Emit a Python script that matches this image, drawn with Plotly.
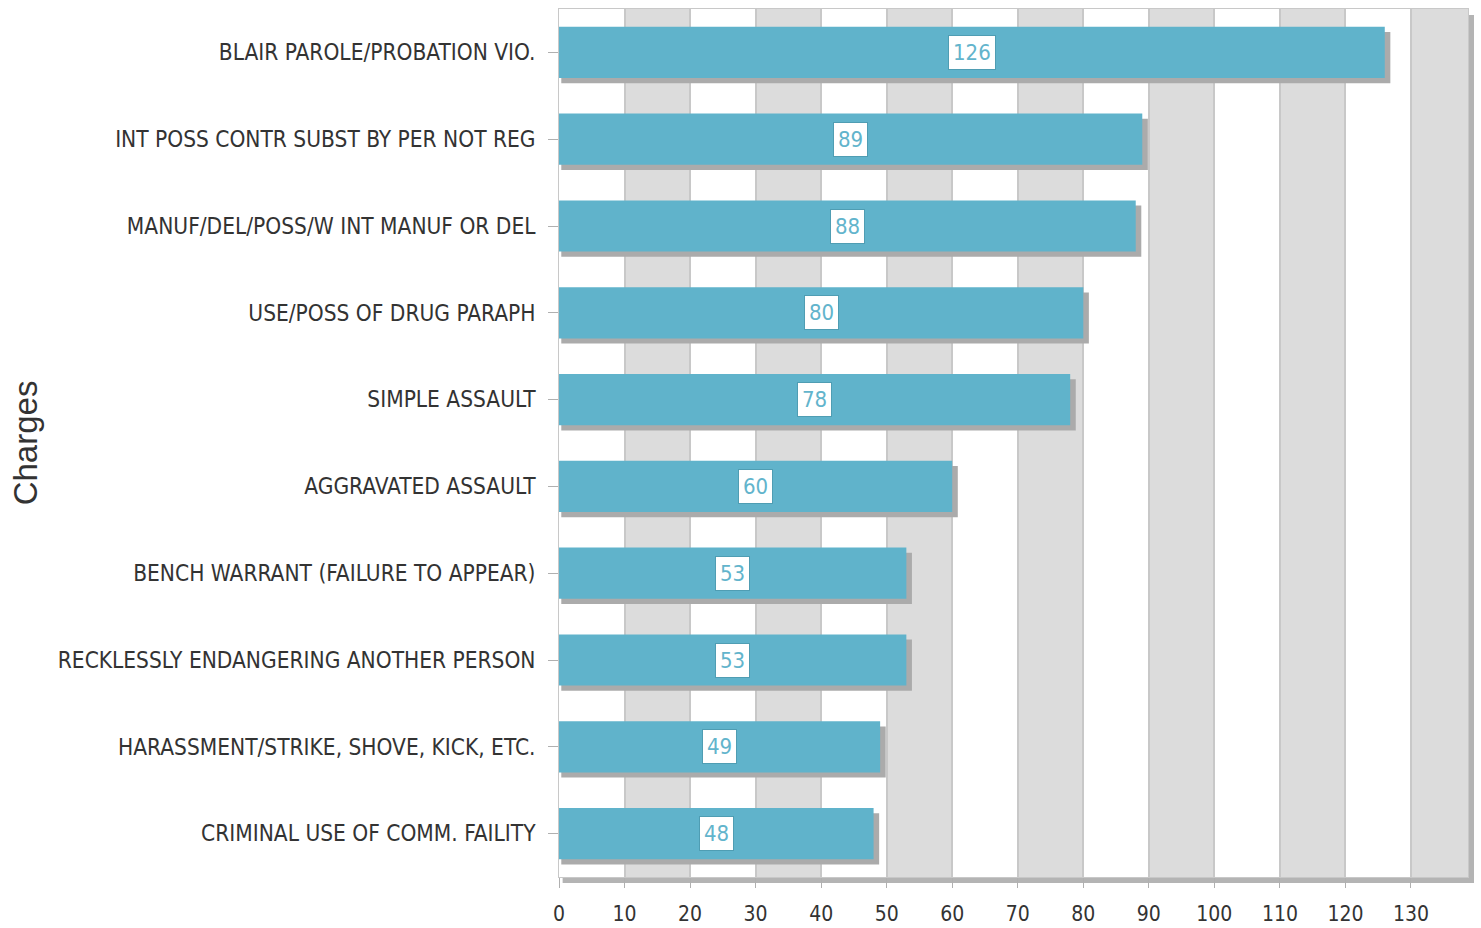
import plotly.graph_objects as go

# ---- data ----
charges = [
    "BLAIR PAROLE/PROBATION VIO.",
    "INT POSS CONTR SUBST BY PER NOT REG",
    "MANUF/DEL/POSS/W INT MANUF OR DEL",
    "USE/POSS OF DRUG PARAPH",
    "SIMPLE ASSAULT",
    "AGGRAVATED ASSAULT",
    "BENCH WARRANT (FAILURE TO APPEAR)",
    "RECKLESSLY ENDANGERING ANOTHER PERSON",
    "HARASSMENT/STRIKE, SHOVE, KICK, ETC.",
    "CRIMINAL USE OF COMM. FAILITY",
]
counts = [126, 89, 88, 80, 78, 60, 53, 53, 49, 48]
x_ticks = list(range(0, 140, 10))
x_max = 138.7
axis_title = "Charges"

# ---- style ----
NARROW = "DejaVu Sans Condensed, Liberation Sans Narrow, sans-serif"
BAR = "#60b3cb"
SHADOW = "#ababab"
BAND = "#dcdcdc"
GRID = "#c8c8c8"
W = 0.59

fig = go.Figure()

# bar drop shadows
fig.add_trace(go.Bar(
    y=charges, x=[c + 0.5 for c in counts], base=0.35,
    orientation="h", width=W, offset=-W / 2 + 0.06,
    marker=dict(color=SHADOW, line=dict(width=0)),
    hoverinfo="skip", showlegend=False,
))
# bars
fig.add_trace(go.Bar(
    y=charges, x=counts, orientation="h", width=W, offset=-W / 2,
    marker=dict(color=BAR, line=dict(width=0)),
    showlegend=False, name="Count",
))

# value labels in white boxes
for c, n in zip(charges, counts):
    fig.add_annotation(
        x=n / 2, y=c, text=str(n), showarrow=False,
        bgcolor="white", bordercolor="#4f9db3", borderwidth=1, borderpad=4,
        font=dict(family=NARROW, size=22, color="#62b4cc"),
    )

shapes = []
# plot-area shadow and background
shapes.append(dict(type="rect", xref="paper", yref="paper",
                   x0=0.004, x1=1 + 6 / 909, y0=-6 / 869, y1=1 - 6 / 869,
                   fillcolor="#b4b4b4", line=dict(width=0), layer="below"))
shapes.append(dict(type="rect", xref="paper", yref="paper",
                   x0=0, x1=1, y0=0, y1=1,
                   fillcolor="white", line=dict(width=0), layer="below"))
# alternating bands
for t in x_ticks:
    if (t // 10) % 2 == 1:
        shapes.append(dict(type="rect", xref="x", yref="paper",
                           x0=t, x1=min(t + 10, x_max), y0=0, y1=1,
                           fillcolor=BAND, line=dict(width=0), layer="below"))

fig.update_layout(
    width=1481, height=928,
    margin=dict(l=559, r=13, t=9, b=51),
    paper_bgcolor="white", plot_bgcolor="rgba(0,0,0,0)",
    barmode="overlay",
    shapes=shapes,
    showlegend=False,
    xaxis=dict(
        range=[0, x_max], tickvals=x_ticks, ticktext=[str(t) for t in x_ticks],
        showgrid=True, gridcolor=GRID, gridwidth=1.5, zeroline=False,
        showline=True, mirror=True, linecolor="#c8c8c8", linewidth=1,
        ticks="outside", ticklen=10, tickcolor="#b0b0b0",
        tickfont=dict(family=NARROW, size=21, color="#333333"),
        ticklabelstandoff=8, automargin=False,
    ),
    yaxis=dict(
        type="category", categoryorder="array", categoryarray=charges,
        range=[9.5, -0.5], showgrid=False, zeroline=False,
        showline=True, mirror=True, linecolor="#c8c8c8", linewidth=1,
        ticks="outside", ticklen=10, tickcolor="#b0b0b0",
        tickfont=dict(family=NARROW, size=22.5, color="#333333"),
        ticklabelstandoff=8, automargin=False,
        title=dict(text=axis_title, standoff=10,
                   font=dict(family="Liberation Sans, Arial, sans-serif", size=33, color="#333333")),
    ),
)

fig.write_html("out.html", config={"displayModeBar": False},
               post_script="document.body.style.margin='0';")
